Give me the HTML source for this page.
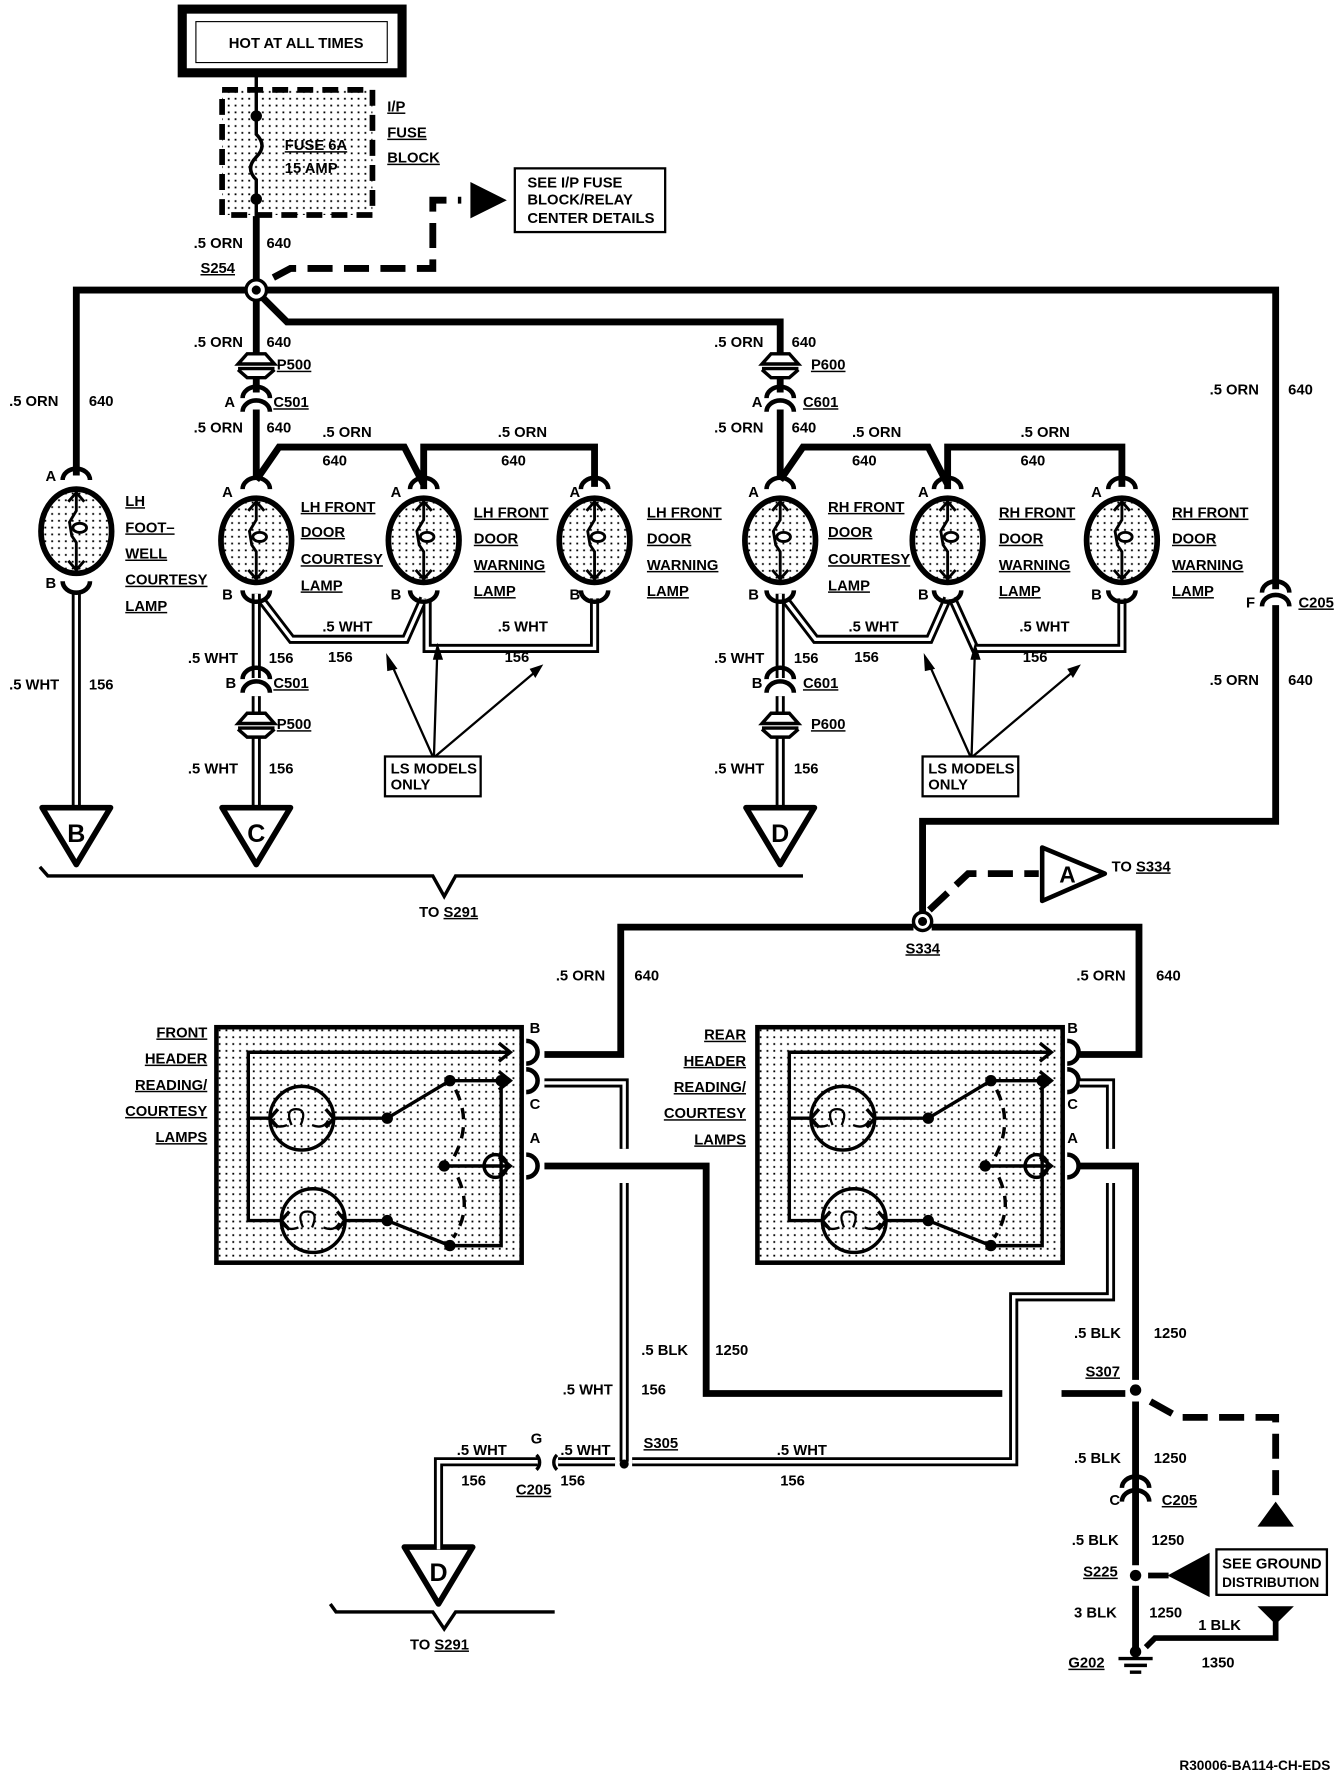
<!DOCTYPE html>
<html><head><meta charset="utf-8"><style>
html,body{margin:0;padding:0;background:#fff}
svg{display:block}
text{font-family:"Liberation Sans",sans-serif;font-size:13px;font-weight:bold;fill:#000}
.u{text-decoration:underline}
</style></head><body>
<svg width="1344" height="1778" viewBox="0 0 1180 1563" preserveAspectRatio="none" xmlns="http://www.w3.org/2000/svg">
<defs>
<pattern id="dots" width="6" height="6" patternUnits="userSpaceOnUse"><rect width="6" height="6" fill="#fff"/><rect x="2" y="2" width="1.6" height="1.6" fill="#000"/></pattern>
<g id="lamp">
 <ellipse cx="0" cy="0" rx="31" ry="37" fill="url(#dots)" stroke="#000" stroke-width="5"/>
 <path d="M0,-34 L0,-18 L-6,-8 L-4,4 L0,10 L0,34 M-7,-26 L0,-34 L7,-26 M-7,26 L0,34 L7,26" fill="none" stroke="#000" stroke-width="2.5"/>
 <ellipse cx="3" cy="-3" rx="6" ry="4" fill="#fff" stroke="#000" stroke-width="2.5"/>
 <path d="M-12,-45 a12,10 0 0 1 24,0" fill="none" stroke="#000" stroke-width="4"/>
 <path d="M-12,44 a12,10 0 0 0 24,0" fill="none" stroke="#000" stroke-width="4"/>
</g>
<g id="conn">
 <path d="M-12,-4 a12,10 0 0 1 24,0 M-12,8 a12,10 0 0 1 24,0" fill="none" stroke="#000" stroke-width="4"/>
</g>
<g id="plug">
 <path d="M-16,0 L-8,-9 L8,-9 L16,0 Z M-16,4 L16,4 M-16,5 L-8,12 L8,12 L16,5" fill="#fff" stroke="#000" stroke-width="3"/>
</g>
<g id="tri">
 <path d="M-30,0 L30,0 L0,50 Z" fill="#fff" stroke="#000" stroke-width="5" stroke-linejoin="round"/>
</g>
<g id="header">
 <rect x="0" y="0" width="268" height="207" fill="url(#dots)" stroke="#000" stroke-width="4"/>
 <g fill="none" stroke="#000" stroke-width="3">
  <path d="M258,22 L28,22 L28,170 L58,170"/>
  <path d="M28,80 L47,80"/>
  <circle cx="75" cy="80" r="28"/>
  <circle cx="85" cy="170" r="28"/>
  <path d="M103,80 L150,80 L205,47 L258,47 M250,47 L250,192 L205,192 L150,170 L113,170"/>
  <path d="M200,122 L258,122"/>
  <circle cx="245" cy="122" r="10"/>
  <path d="M248,14 L258,22 L248,30 M248,39 L258,47 L248,55 M248,114 L258,122 L248,130"/>
  <path d="M54,72 L47,80 L54,88 M96,72 L103,80 L96,88 M64,162 L57,170 L64,178 M106,162 L113,170 L106,178"/>
  <path d="M66,86 q-6,-14 4,-14 q10,0 4,14 M62,86 q-10,4 -14,-4 M84,86 q10,4 14,-4" stroke-width="2"/>
  <path d="M76,176 q-6,-14 4,-14 q10,0 4,14 M72,176 q-10,4 -14,-4 M94,176 q10,4 14,-4" stroke-width="2"/>
  <path d="M210,55 Q225,85 208,115 M212,132 Q225,160 208,185" stroke-dasharray="10,7"/>
 </g>
 <circle cx="150" cy="80" r="5"/><circle cx="205" cy="47" r="5"/><circle cx="250" cy="47" r="5"/>
 <circle cx="200" cy="122" r="5"/><circle cx="150" cy="170" r="5"/><circle cx="205" cy="192" r="5"/>
 <g fill="none" stroke="#000" stroke-width="4">
  <path d="M272,12 a10,10 0 0 1 0,20 M272,37 a10,10 0 0 1 0,20 M272,112 a10,10 0 0 1 0,20"/>
 </g>
</g>
</defs>

<rect x="160" y="8" width="193" height="56" fill="#fff" stroke="#000" stroke-width="8"/>
<rect x="172" y="19" width="168" height="36" fill="#fff" stroke="#000" stroke-width="1"/>
<text x="260" y="42" text-anchor="middle">HOT AT ALL TIMES</text>

<rect x="195" y="79" width="132" height="110" fill="url(#dots)" stroke="#000" stroke-width="5" stroke-dasharray="14,8"/>
<path d="M225,64 L225,100 L225,118 q10,10 0,20 q-10,10 0,20 L225,195" fill="none" stroke="#000" stroke-width="3"/>
<circle cx="225" cy="102" r="5"/><circle cx="225" cy="175" r="5"/>
<text x="250" y="132" class="u">FUSE 6A</text>
<text x="250" y="152">15 AMP</text>
<text x="340" y="98" class="u">I/P</text>
<text x="340" y="121" class="u">FUSE</text>
<text x="340" y="143" class="u">BLOCK</text>

<path d="M240,244 L255,236 L380,236 L380,176 L405,176" fill="none" stroke="#000" stroke-width="6" stroke-dasharray="22,10"/>
<path d="M413,160 L445,176 L413,192 Z"/>
<rect x="452" y="148" width="132" height="56" fill="#fff" stroke="#000" stroke-width="2"/>
<text x="463" y="165">SEE I/P FUSE</text>
<text x="463" y="180">BLOCK/RELAY</text>
<text x="463" y="196">CENTER DETAILS</text>

<g fill="none" stroke="#000" stroke-width="6">
 <path d="M225,190 L225,248"/>
 <path d="M218,255 L67,255 L67,418"/>
 <path d="M232,255 L1120,255 L1120,518"/>
 <path d="M1120,532 L1120,722 L810,722 L810,802"/>
 <path d="M231,262 L252,283 L685,283 L685,312"/>
 <path d="M225,262 L225,312"/>
 <path d="M225,332 L225,345 M225,360 L225,422"/>
 <path d="M685,332 L685,345 M685,360 L685,422"/>
 <path d="M225,422 L245,393 L355,393 L372,426 M372,430 L372,393 L522,393 L522,428"/>
 <path d="M685,422 L705,393 L815,393 L832,426 M832,430 L832,393 L985,393 L985,428"/>
</g>
<circle cx="225" cy="255" r="9" fill="#fff" stroke="#000" stroke-width="3"/><circle cx="225" cy="255" r="4"/>

<use href="#plug" x="225" y="320"/>
<use href="#conn" x="225" y="354"/>
<use href="#plug" x="685" y="320"/>
<use href="#conn" x="685" y="354"/>
<use href="#conn" x="1120" y="525"/>

<g fill="none" stroke="#000" stroke-width="8">
 <path d="M67,522 L67,712"/>
 <path d="M225,522 L225,596 M225,612 L225,630 M225,645 L225,712"/>
 <path d="M230,528 L256,562 L356,562 L372,526"/>
 <path d="M375,526 L375,570 L522,570 L522,526"/>
 <path d="M685,522 L685,596 M685,612 L685,630 M685,645 L685,712"/>
 <path d="M690,528 L716,562 L816,562 L832,526"/>
 <path d="M836,526 L856,570 L985,570 L985,526"/>
</g>
<g fill="none" stroke="#fff" stroke-width="3">
 <path d="M67,522 L67,712"/>
 <path d="M225,522 L225,596 M225,612 L225,630 M225,645 L225,712"/>
 <path d="M230,528 L256,562 L356,562 L372,526"/>
 <path d="M375,526 L375,570 L522,570 L522,526"/>
 <path d="M685,522 L685,596 M685,612 L685,630 M685,645 L685,712"/>
 <path d="M690,528 L716,562 L816,562 L832,526"/>
 <path d="M836,526 L856,570 L985,570 L985,526"/>
</g>
<use href="#conn" x="225" y="601"/>
<use href="#plug" x="225" y="636"/>
<use href="#conn" x="685" y="601"/>
<use href="#plug" x="685" y="636"/>

<use href="#lamp" x="67" y="467"/>
<use href="#lamp" x="225" y="475"/>
<use href="#lamp" x="372" y="475"/>
<use href="#lamp" x="522" y="475"/>
<use href="#lamp" x="685" y="475"/>
<use href="#lamp" x="832" y="475"/>
<use href="#lamp" x="985" y="475"/>

<use href="#tri" x="67" y="710"/><text x="67" y="740" text-anchor="middle" style="font-size:22px">B</text>
<use href="#tri" x="225" y="710"/><text x="225" y="740" text-anchor="middle" style="font-size:22px">C</text>
<use href="#tri" x="685" y="710"/><text x="685" y="740" text-anchor="middle" style="font-size:22px">D</text>
<use href="#tri" x="385" y="1360"/><text x="385" y="1390" text-anchor="middle" style="font-size:22px">D</text>

<path d="M35,762 L42,770 L380,770 L390,788 L400,770 L705,770" fill="none" stroke="#000" stroke-width="3"/>
<text x="368" y="806">TO <tspan class="u">S291</tspan></text>
<path d="M290,1410 L295,1417 L380,1417 L390,1432 L400,1417 L487,1417" fill="none" stroke="#000" stroke-width="3"/>
<text x="360" y="1450">TO <tspan class="u">S291</tspan></text>

<rect x="338" y="665" width="84" height="35" fill="#fff" stroke="#000" stroke-width="2"/>
<text x="343" y="680">LS MODELS</text><text x="343" y="694">ONLY</text>
<rect x="810" y="665" width="84" height="35" fill="#fff" stroke="#000" stroke-width="2"/>
<text x="815" y="680">LS MODELS</text><text x="815" y="694">ONLY</text>
<g stroke="#000" stroke-width="2" fill="none">
 <path d="M380,665 L342,580 M381,665 L384,570 M382,665 L473,588"/>
 <path d="M852,665 L814,580 M853,665 L856,570 M854,665 L945,588"/>
</g>
<g>
 <path d="M339,574 L349,588 L340,590Z"/><path d="M384,565 L389,580 L380,580Z"/><path d="M477,584 L470,596 L465,588Z"/>
 <path d="M811,574 L821,588 L812,590Z"/><path d="M856,565 L861,580 L852,580Z"/><path d="M949,584 L942,596 L937,588Z"/>
</g>

<text x="170" y="218">.5 ORN</text><text x="234" y="218">640</text>
<text x="176" y="240" class="u">S254</text>
<text x="170" y="305">.5 ORN</text><text x="234" y="305">640</text>
<text x="243" y="325" class="u">P500</text>
<text x="197" y="358">A</text><text x="240" y="358" class="u">C501</text>
<text x="170" y="380">.5 ORN</text><text x="234" y="380">640</text>
<text x="283" y="384">.5 ORN</text><text x="283" y="409">640</text>
<text x="437" y="384">.5 ORN</text><text x="440" y="409">640</text>
<text x="8" y="357">.5 ORN</text><text x="78" y="357">640</text>
<text x="40" y="423">A</text><text x="40" y="517">B</text>
<text x="110" y="445" class="u">LH</text><text x="110" y="468" class="u">FOOT–</text><text x="110" y="491" class="u">WELL</text><text x="110" y="514" class="u">COURTESY</text><text x="110" y="537" class="u">LAMP</text>
<text x="8" y="606">.5 WHT</text><text x="78" y="606">156</text>
<text x="195" y="437">A</text><text x="195" y="527">B</text>
<text x="264" y="450" class="u">LH FRONT</text><text x="264" y="472" class="u">DOOR</text><text x="264" y="496" class="u">COURTESY</text><text x="264" y="519" class="u">LAMP</text>
<text x="343" y="437">A</text><text x="343" y="527">B</text>
<text x="416" y="455" class="u">LH FRONT</text><text x="416" y="478" class="u">DOOR</text><text x="416" y="501" class="u">WARNING</text><text x="416" y="524" class="u">LAMP</text>
<text x="500" y="437">A</text><text x="500" y="527">B</text>
<text x="568" y="455" class="u">LH FRONT</text><text x="568" y="478" class="u">DOOR</text><text x="568" y="501" class="u">WARNING</text><text x="568" y="524" class="u">LAMP</text>
<text x="283" y="555">.5 WHT</text><text x="288" y="582">156</text>
<text x="437" y="555">.5 WHT</text><text x="443" y="582">156</text>
<text x="165" y="583">.5 WHT</text><text x="236" y="583">156</text>
<text x="198" y="605">B</text><text x="240" y="605" class="u">C501</text>
<text x="243" y="641" class="u">P500</text>
<text x="165" y="680">.5 WHT</text><text x="236" y="680">156</text>

<text x="627" y="305">.5 ORN</text><text x="695" y="305">640</text>
<text x="712" y="325" class="u">P600</text>
<text x="660" y="358">A</text><text x="705" y="358" class="u">C601</text>
<text x="627" y="380">.5 ORN</text><text x="695" y="380">640</text>
<text x="748" y="384">.5 ORN</text><text x="748" y="409">640</text>
<text x="896" y="384">.5 ORN</text><text x="896" y="409">640</text>
<text x="657" y="437">A</text><text x="657" y="527">B</text>
<text x="727" y="450" class="u">RH FRONT</text><text x="727" y="472" class="u">DOOR</text><text x="727" y="496" class="u">COURTESY</text><text x="727" y="519" class="u">LAMP</text>
<text x="806" y="437">A</text><text x="806" y="527">B</text>
<text x="877" y="455" class="u">RH FRONT</text><text x="877" y="478" class="u">DOOR</text><text x="877" y="501" class="u">WARNING</text><text x="877" y="524" class="u">LAMP</text>
<text x="958" y="437">A</text><text x="958" y="527">B</text>
<text x="1029" y="455" class="u">RH FRONT</text><text x="1029" y="478" class="u">DOOR</text><text x="1029" y="501" class="u">WARNING</text><text x="1029" y="524" class="u">LAMP</text>
<text x="745" y="555">.5 WHT</text><text x="750" y="582">156</text>
<text x="895" y="555">.5 WHT</text><text x="898" y="582">156</text>
<text x="627" y="583">.5 WHT</text><text x="697" y="583">156</text>
<text x="660" y="605">B</text><text x="705" y="605" class="u">C601</text>
<text x="712" y="641" class="u">P600</text>
<text x="627" y="680">.5 WHT</text><text x="697" y="680">156</text>
<text x="1062" y="347">.5 ORN</text><text x="1131" y="347">640</text>
<text x="1094" y="534">F</text><text x="1140" y="534" class="u">C205</text>
<text x="1062" y="602">.5 ORN</text><text x="1131" y="602">640</text>

<path d="M816,800 L850,768 L912,768" fill="none" stroke="#000" stroke-width="6" stroke-dasharray="22,10"/>
<path d="M915,745 L970,768 L915,792 Z" fill="#fff" stroke="#000" stroke-width="4" stroke-linejoin="round"/>
<text x="930" y="776" style="font-size:20px">A</text>
<text x="976" y="766">TO <tspan class="u">S334</tspan></text>
<g fill="none" stroke="#000" stroke-width="6">
 <path d="M802,815 L545,815 L545,927 L478,927"/>
 <path d="M818,815 L1000,815 L1000,927 L948,927"/>
 <path d="M478,1025 L620,1025 L620,1225 L880,1225"/>
 <path d="M932,1225 L988,1225"/>
 <path d="M948,1025 L997,1025 L997,1213 M997,1232 L997,1376 M997,1394 L997,1452"/>
</g>
<circle cx="810" cy="810" r="8" fill="#fff" stroke="#000" stroke-width="3"/><circle cx="810" cy="810" r="4"/>
<text x="795" y="838" class="u">S334</text>
<text x="488" y="862">.5 ORN</text><text x="557" y="862">640</text>
<text x="945" y="862">.5 ORN</text><text x="1015" y="862">640</text>

<use href="#header" x="190" y="903"/>
<use href="#header" x="665" y="903"/>
<text x="465" y="908">B</text><text x="465" y="975">C</text><text x="465" y="1005">A</text>
<text x="937" y="908">B</text><text x="937" y="975">C</text><text x="937" y="1005">A</text>
<g text-anchor="end">
<text x="182" y="912" class="u">FRONT</text><text x="182" y="935" class="u">HEADER</text><text x="182" y="958" class="u">READING/</text><text x="182" y="981" class="u">COURTESY</text><text x="182" y="1004" class="u">LAMPS</text>
<text x="655" y="914" class="u">REAR</text><text x="655" y="937" class="u">HEADER</text><text x="655" y="960" class="u">READING/</text><text x="655" y="983" class="u">COURTESY</text><text x="655" y="1006" class="u">LAMPS</text>
</g>

<g fill="none" stroke="#000" stroke-width="8">
 <path d="M478,952 L548,952 L548,1010 M548,1040 L548,1285"/>
 <path d="M948,952 L975,952 L975,1010 M975,1040 L975,1140 L890,1140 L890,1285 L555,1285"/>
 <path d="M540,1285 L490,1285 M472,1285 L385,1285 L385,1362"/>
</g>
<g fill="none" stroke="#fff" stroke-width="3">
 <path d="M478,952 L548,952 L548,1010 M548,1040 L548,1285"/>
 <path d="M948,952 L975,952 L975,1010 M975,1040 L975,1140 L890,1140 L890,1285 L555,1285"/>
 <path d="M540,1285 L490,1285 M472,1285 L385,1285 L385,1362"/>
</g>
<path d="M471,1279 a9,9 0 0 1 0,13 M489,1279 a9,9 0 0 0 0,13" fill="none" stroke="#000" stroke-width="3"/>
<circle cx="548" cy="1287" r="4"/>
<text x="563" y="1191">.5 BLK</text><text x="628" y="1191">1250</text>
<text x="494" y="1226">.5 WHT</text><text x="563" y="1226">156</text>
<text x="401" y="1279">.5 WHT</text><text x="405" y="1306">156</text>
<text x="466" y="1269">G</text><text x="453" y="1314" class="u">C205</text>
<text x="492" y="1279">.5 WHT</text><text x="492" y="1306">156</text>
<text x="565" y="1273" class="u">S305</text>
<text x="682" y="1279">.5 WHT</text><text x="685" y="1306">156</text>

<circle cx="997" cy="1222" r="5"/>
<circle cx="997" cy="1385" r="5"/>
<text x="943" y="1176">.5 BLK</text><text x="1013" y="1176">1250</text>
<text x="953" y="1210" class="u">S307</text>
<text x="943" y="1286">.5 BLK</text><text x="1013" y="1286">1250</text>
<use href="#conn" x="997" y="1312"/>
<text x="974" y="1323">C</text><text x="1020" y="1323" class="u">C205</text>
<text x="941" y="1358">.5 BLK</text><text x="1011" y="1358">1250</text>
<text x="951" y="1386" class="u">S225</text>
<text x="943" y="1422">3 BLK</text><text x="1009" y="1422">1250</text>
<path d="M1010,1232 L1035,1246 L1120,1246 L1120,1320" fill="none" stroke="#000" stroke-width="6" stroke-dasharray="22,10"/>
<path d="M1104,1342 L1120,1320 L1136,1342 Z"/>
<rect x="1068" y="1362" width="97" height="40" fill="#fff" stroke="#000" stroke-width="2"/>
<text x="1073" y="1379">SEE GROUND</text><text x="1073" y="1395" style="font-size:12px">DISTRIBUTION</text>
<path d="M1062,1365 L1025,1385 L1062,1404 Z"/>
<path d="M1008,1385 L1026,1385" stroke="#000" stroke-width="5"/>
<path d="M1104,1412 L1136,1412 L1120,1428 Z"/>
<path d="M1120,1425 L1120,1440 L1014,1440 L1006,1448" fill="none" stroke="#000" stroke-width="5"/>
<text x="1052" y="1433">1 BLK</text><text x="1055" y="1466">1350</text>
<circle cx="997" cy="1452" r="5"/>
<path d="M982,1458 L1012,1458 M987,1464 L1007,1464 M992,1470 L1002,1470" stroke="#000" stroke-width="3"/>
<text x="938" y="1466" class="u">G202</text>

<text x="1168" y="1556" text-anchor="end" style="font-size:12px">R30006-BA114-CH-EDS</text>
</svg>
</body></html>
